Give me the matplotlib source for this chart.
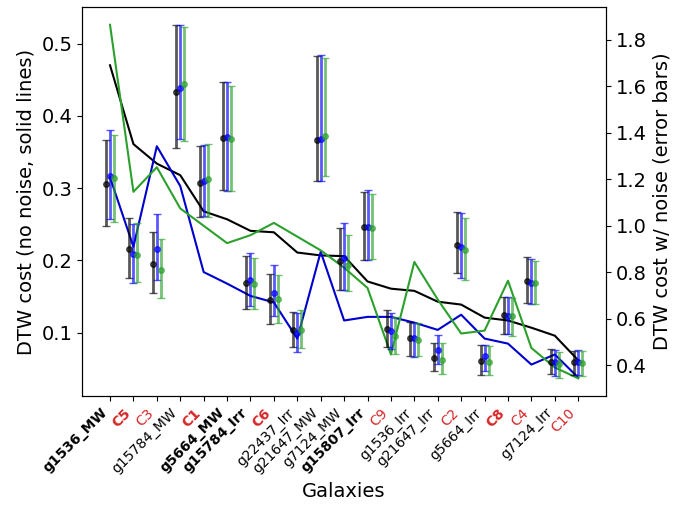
import numpy as np
import matplotlib.pyplot as plt

galaxies = ['g1536_MW', 'C5', 'C3', 'g15784_MW', 'C1', 'g5664_MW', 'g15784_Irr', 'C6',
            'g22437_Irr', 'g21647_MW', 'g7124_MW', 'g15807_Irr', 'C9', 'g1536_Irr',
            'g21647_Irr', 'C2', 'g5664_Irr', 'C8', 'C4', 'g7124_Irr', 'C10']
bold_labels = ['g1536_MW', 'C5', 'C1', 'g5664_MW', 'g15784_Irr', 'C6', 'g15807_Irr', 'C8']

# DTW cost without noise (left axis, lines)
black_line = [0.470, 0.361, 0.334, 0.318, 0.268, 0.257, 0.241, 0.239, 0.211, 0.207, 0.206,
              0.171, 0.161, 0.158, 0.143, 0.139, 0.121, 0.117, 0.107, 0.096, 0.062]
blue_line = [0.315, 0.219, 0.358, 0.303, 0.184, 0.168, 0.151, 0.142, 0.092, 0.212, 0.117,
             0.122, 0.122, 0.114, 0.104, 0.125, 0.092, 0.085, 0.056, 0.070, 0.038]
green_line = [0.526, 0.295, 0.329, 0.272, 0.248, 0.224, 0.235, 0.252, 0.233, 0.214, 0.190,
              0.162, 0.070, 0.198, 0.146, 0.099, 0.103, 0.172, 0.079, 0.052, 0.037]

# DTW cost with noise (right axis, error bars): centre, lower, upper
black_c = [1.177, 0.899, 0.835, 1.577, 1.183, 1.377, 0.755, 0.679, 0.549, 1.367, 0.849,
           0.995, 0.555, 0.516, 0.431, 0.916, 0.416, 0.616, 0.762, 0.414, 0.412]
black_lo = [0.998, 0.775, 0.708, 1.334, 1.037, 1.153, 0.643, 0.578, 0.479, 1.194, 0.725,
            0.853, 0.476, 0.441, 0.376, 0.796, 0.357, 0.534, 0.666, 0.363, 0.359]
black_hi = [1.367, 1.031, 0.974, 1.864, 1.344, 1.616, 0.869, 0.791, 0.630, 1.730, 0.989,
            1.144, 0.637, 0.585, 0.495, 1.059, 0.487, 0.693, 0.865, 0.469, 0.461]

blue_c = [1.215, 0.879, 0.901, 1.592, 1.192, 1.381, 0.765, 0.712, 0.537, 1.374, 0.860,
          0.996, 0.545, 0.515, 0.466, 0.906, 0.440, 0.612, 0.752, 0.412, 0.412]
blue_lo = [1.030, 0.755, 0.765, 1.373, 1.042, 1.148, 0.655, 0.609, 0.457, 1.191, 0.723,
           0.854, 0.470, 0.436, 0.404, 0.775, 0.376, 0.533, 0.662, 0.354, 0.356]
blue_hi = [1.413, 1.009, 1.052, 1.864, 1.346, 1.620, 0.882, 0.830, 0.623, 1.735, 1.012,
           1.155, 0.624, 0.583, 0.530, 1.055, 0.487, 0.691, 0.855, 0.467, 0.465]

green_c = [1.204, 0.875, 0.811, 1.609, 1.201, 1.372, 0.748, 0.683, 0.551, 1.387, 0.830,
           0.990, 0.524, 0.509, 0.420, 0.897, 0.414, 0.610, 0.752, 0.403, 0.408]
green_lo = [1.015, 0.758, 0.688, 1.363, 1.039, 1.151, 0.643, 0.579, 0.472, 1.215, 0.718,
            0.855, 0.446, 0.439, 0.361, 0.768, 0.356, 0.527, 0.662, 0.343, 0.354]
green_hi = [1.391, 1.012, 0.941, 1.856, 1.353, 1.602, 0.861, 0.788, 0.639, 1.722, 0.960,
            1.137, 0.605, 0.580, 0.494, 1.032, 0.482, 0.687, 0.848, 0.458, 0.459]

x = np.arange(len(galaxies))

fig, ax = plt.subplots(figsize=(6.91, 5.09), dpi=100)
fig.subplots_adjust(left=0.119, right=0.877, bottom=0.222, top=0.986)

ax.plot(x, black_line, color='k', lw=1.5)
ax.plot(x, blue_line, color='mediumblue', lw=1.5)
ax.plot(x, green_line, color='tab:green', lw=1.5)
ax.set_ylabel('DTW cost (no noise, solid lines)', fontsize=14)
ax.set_xlabel('Galaxies', fontsize=14)
ax.tick_params(axis='y', labelsize=14)

ax2 = ax.twinx()
series = [(black_c, black_lo, black_hi, 'k', -0.17),
          (blue_c, blue_lo, blue_hi, 'b', 0.0),
          (green_c, green_lo, green_hi, 'tab:green', 0.17)]
for c, lo, hi, col, dx in series:
    c = np.array(c)
    err = [c - np.array(lo), np.array(hi) - c]
    ax2.errorbar(x + dx, c, yerr=err, fmt='o', color=col, ms=4, elinewidth=2,
                 capsize=3, alpha=0.65)
ax2.set_ylabel('DTW cost w/ noise (error bars)', fontsize=14)
ax2.tick_params(axis='y', labelsize=14)

ax.set_xticks(x)
ax.set_xticklabels(galaxies, rotation=45, ha='right', fontsize=10)
for lab in ax.get_xticklabels():
    t = lab.get_text()
    if t.startswith('C'):
        lab.set_color('tab:red')
    if t in bold_labels:
        lab.set_fontweight('bold')

fig.savefig('out.png')
